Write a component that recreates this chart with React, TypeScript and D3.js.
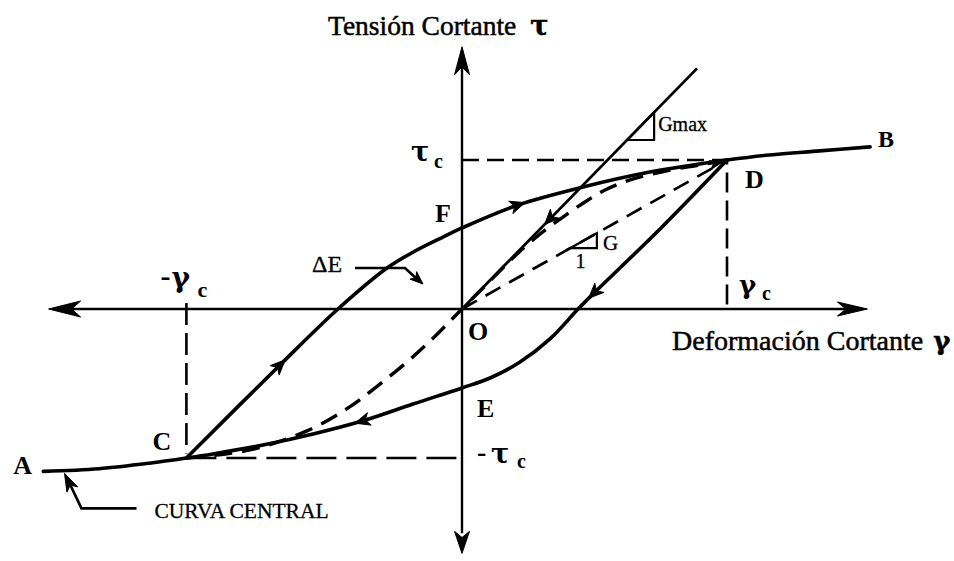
import React from "react";
import * as d3 from "d3";

type Pt = [number, number];

// Strain in units of γc, stress in units of τc
const centralLeft: Pt[] = [[-1.58, -1.09], [-1.37, -1.072], [-1.18, -1.035], [-1.04, -1.0]];
const centralInner: Pt[] = [
  [-1.04, -1.0], [-0.8, -0.946], [-0.585, -0.818], [-0.434, -0.669], [-0.336, -0.541],
  [-0.196, -0.338], [-0.094, -0.169], [0, 0], [0.106, 0.188], [0.2, 0.356], [0.294, 0.503],
  [0.381, 0.617], [0.464, 0.718], [0.54, 0.799], [0.634, 0.866], [0.785, 0.933], [0.898, 0.966], [1, 1],
];
const centralRight: Pt[] = [[1, 1], [1.16, 1.034], [1.35, 1.061], [1.54, 1.088]];
const reloading: Pt[] = [
  [-1.04, -1.0], [-0.687, -0.376], [-0.468, 0], [-0.283, 0.275], [-0.17, 0.396], [-0.072, 0.483],
  [0, 0.544], [0.211, 0.698], [0.457, 0.819], [0.709, 0.919], [1, 1],
];
const unloading: Pt[] = [
  [1, 1], [0.751, 0.544], [0.498, 0.107], [0.438, 0], [0.332, -0.201], [0.219, -0.356],
  [0.106, -0.463], [0, -0.53], [-0.185, -0.638], [-0.377, -0.752], [-0.562, -0.839],
  [-0.751, -0.913], [-0.94, -0.973], [-1.04, -1.0],
];
const gmaxTop: Pt = [0.887, 1.615];
const strainExtent: Pt = [-1.56, 1.53];
const stressExtent: Pt = [-1.64, 1.76];

const W = 954;
const H = 561;
const SERIF = "'Liberation Serif', 'Times New Roman', serif";
const GREEK = "'DejaVu Serif', 'Liberation Serif', serif";

function head(tipX: number, tipY: number, angle: number, len: number, half: number, key?: string) {
  const c = Math.cos(angle), s = Math.sin(angle);
  const p = (a: number, b: number) => `${tipX + a * c - b * s},${tipY + a * s + b * c}`;
  const d = `M${p(0, 0)}L${p(-len, -half)}L${p(-len * 0.72, 0)}L${p(-len, half)}Z`;
  return <path key={key} d={d} fill="#000" stroke="#000" strokeWidth={1} strokeLinejoin="round" />;
}

export default function App() {
  const x = d3.scaleLinear().domain([0, 1]).range([462, 727]);
  const y = d3.scaleLinear().domain([0, 1]).range([309, 160]);
  const curve = d3.line<Pt>().x((d) => x(d[0])).y((d) => y(d[1])).curve(d3.curveCatmullRom.alpha(0.5));
  const seg = d3.line<Pt>().x((d) => x(d[0])).y((d) => y(d[1]));

  const C = reloading[0];
  const D = reloading[reloading.length - 1];
  const E = unloading[7];
  const F = reloading[6];
  const A = centralLeft[0];
  const B = centralRight[centralRight.length - 1];
  const gmaxSlope = gmaxTop[1] / gmaxTop[0];
  const secSlope = D[1] / D[0];

  // direction arrows placed on data points of each branch
  const onCurve = (pts: Pt[], i: number, reverse = false, len = 15, half = 6.5) => {
    const a = pts[i - 1], b = pts[i + 1], p = pts[i];
    let ang = Math.atan2(y(b[1]) - y(a[1]), x(b[0]) - x(a[0]));
    if (reverse) ang += Math.PI;
    const tx = x(p[0]) + Math.cos(ang) * len / 2;
    const ty = y(p[1]) + Math.sin(ang) * len / 2;
    return head(tx, ty, ang, len, half, `${i}-${reverse}`);
  };

  // slope triangles
  const gTri: Pt = [0.623, 0.725];
  const sTri: Pt = [0.408, 0.509];
  const triPath = (r: Pt, k: number) =>
    `M${x(r[0])},${y(r[0] * k)}L${x(r[1])},${y(r[0] * k)}L${x(r[1])},${y(r[1] * k)}Z`;

  const gmaxArrowAt: Pt = [0.33, 0.33 * gmaxSlope];
  const gmaxAng = Math.atan2(y(0) - y(gmaxArrowAt[1]), x(0) - x(gmaxArrowAt[0]));

  const x0 = x(0), y0 = y(0);
  const tipCC: Pt = [x(-1.5), y(-1.083) + 3];
  const dE: Pt = [x(reloading[3][0]), y(reloading[3][1])];

  return (
    <svg width={W} height={H} style={{ position: "absolute", left: 0, top: 0, background: "#fff" }} fontFamily={SERIF}>
      <rect width={W} height={H} fill="#fff" />
      {/* guide lines to τc, -τc, γc, -γc */}
      <g stroke="#000" fill="none" strokeWidth={2.3}>
        <path d={seg([[0, 1], D])} strokeDasharray="17 8" />
        <path d={seg([C, [0, -1]])} strokeDasharray="30 10" />
        <path d={seg([[1, 0.03], [1, 1]])} strokeDasharray="20 8" strokeWidth={2.6} />
        <path d={seg([[C[0], 0.04], [C[0], -0.97]])} strokeDasharray="22 8" strokeWidth={2.6} />
      </g>
      {/* axes */}
      <g stroke="#000" strokeWidth={2.4}>
        <line x1={x(strainExtent[0]) + 20} x2={x(strainExtent[1]) - 20} y1={y0} y2={y0} />
        <line x1={x0} x2={x0} y1={y(stressExtent[0]) - 20} y2={y(stressExtent[1]) + 20} />
      </g>
      {head(x(strainExtent[1]), y0, 0, 30, 7)}
      {head(x(strainExtent[0]), y0, Math.PI, 32, 8)}
      {head(x0, y(stressExtent[1]), -Math.PI / 2, 28, 7.5)}
      {head(x0, y(stressExtent[0]), Math.PI / 2, 22, 7.5)}

      {/* secant modulus G and central curve inside the loop */}
      <path d={seg([[0, 0], D])} stroke="#000" fill="none" strokeWidth={2.7} strokeDasharray="17 10" />
      <path d={curve(centralInner) || ""} stroke="#000" fill="none" strokeWidth={3.4} strokeDasharray="18 10" />
      {/* tangent modulus Gmax */}
      <path d={seg([[0, 0], gmaxTop])} stroke="#000" fill="none" strokeWidth={2.8} />
      {head(x(gmaxArrowAt[0]) + Math.cos(gmaxAng) * 7, y(gmaxArrowAt[1]) + Math.sin(gmaxAng) * 7, gmaxAng, 15, 6.5)}

      {/* central curve outside the loop, and the loop branches */}
      <g stroke="#000" fill="none" strokeWidth={3.6} strokeLinecap="round">
        <path d={curve(centralLeft) || ""} />
        <path d={curve(centralRight) || ""} />
        <path d={curve(reloading) || ""} />
        <path d={curve(unloading) || ""} />
      </g>
      {onCurve(reloading, 1)}
      {onCurve(reloading, 7)}
      {onCurve(unloading, 2)}
      {onCurve(unloading, 9)}
      {head(x(D[0]) - 6, y(D[1]) + 3, Math.atan2(y(D[1]) - y(centralInner[16][1]), x(D[0]) - x(centralInner[16][0])), 11, 4.5)}

      {/* slope triangles */}
      <path d={triPath(gTri, gmaxSlope)} stroke="#000" strokeWidth={2.2} fill="none" />
      <path d={triPath(sTri, secSlope)} stroke="#000" strokeWidth={2.2} fill="none" />
      <text x={x(gTri[1]) + 4} y={y(gTri[1] * gmaxSlope) + 19} fontSize={20} stroke="#000" strokeWidth={0.3}>Gmax</text>
      <text x={x(sTri[1]) + 6} y={y(sTri[1] * secSlope) + 17} fontSize={21} stroke="#000" strokeWidth={0.3}>G</text>
      <text x={x((sTri[0] + sTri[1]) / 2) - 3} y={y(sTri[0] * secSlope) + 20} fontSize={20} textAnchor="middle" stroke="#000" strokeWidth={0.3}>1</text>

      {/* ΔE pointer */}
      <path d={`M${dE[0] - 32},${dE[1]}L${dE[0] + 18},${dE[1]}L${dE[0] + 30},${dE[1] + 11}`} stroke="#000" strokeWidth={2.6} fill="none" />
      {head(dE[0] + 36, dE[1] + 16, Math.atan2(16, 18), 13, 5)}
      <text x={dE[0] - 75} y={dE[1] + 4} fontSize={24} stroke="#000" strokeWidth={0.3}>ΔE</text>

      {/* central curve pointer */}
      <path d={`M${tipCC[0] + 72},${tipCC[1] + 35}L${tipCC[0] + 17},${tipCC[1] + 35}L${tipCC[0] + 6},${tipCC[1] + 12}`} stroke="#000" strokeWidth={2.6} fill="none" />
      {head(tipCC[0], tipCC[1], Math.atan2(-35, -17), 18, 6)}
      <text x={tipCC[0] + 90} y={tipCC[1] + 45} fontSize={21.5} stroke="#000" strokeWidth={0.3}>CURVA CENTRAL</text>

      {/* point labels */}
      <g fontWeight="bold" fontSize={26}>
        <text x={x(A[0]) - 30} y={y(A[1]) + 3}>A</text>
        <text x={x(B[0]) + 8} y={y(B[1])} fontSize={24}>B</text>
        <text x={x(C[0]) - 34} y={y(C[1]) - 8}>C</text>
        <text x={x(D[0]) + 18} y={y(D[1]) + 28}>D</text>
        <text x={x(E[0]) + 15} y={y(E[1]) + 29}>E</text>
        <text x={x(F[0]) - 27} y={y(F[1]) - 6}>F</text>
        <text x={x0 + 6} y={y0 + 31}>O</text>
      </g>

      {/* τc, -τc, γc, -γc */}
      <g fontWeight="bold">
        <text x={x0 - 51} y={y(1) + 1} fontSize={27} fontFamily={GREEK}>τ</text>
        <text x={x0 - 28} y={y(1) + 8} fontSize={20}>c</text>
        <text x={x0 + 15} y={y(-1) + 3} fontSize={28}>-</text>
        <text x={x0 + 29} y={y(-1) + 5} fontSize={27} fontFamily={GREEK}>τ</text>
        <text x={x0 + 55} y={y(-1) + 10} fontSize={20}>c</text>
        <text x={x(1) + 12} y={y0 - 15} fontSize={26} fontFamily={GREEK}>γ</text>
        <text x={x(1) + 35} y={y0 - 9} fontSize={20}>c</text>
        <text x={x(C[0]) - 26} y={y0 - 23} fontSize={30}>-</text>
        <text x={x(C[0]) - 15} y={y0 - 22} fontSize={28} fontFamily={GREEK}>γ</text>
        <text x={x(C[0]) + 11} y={y0 - 12} fontSize={22}>c</text>
      </g>

      {/* axis titles */}
      <text x={x0 - 134} y={35} fontSize={27.5} stroke="#000" strokeWidth={0.5}>
        Tensión Cortante<tspan dx={14} fontWeight="bold" fontSize={27} fontFamily={GREEK}>τ</tspan>
      </text>
      <text x={x0 + 210} y={y0 + 41} fontSize={28} stroke="#000" strokeWidth={0.5}>
        Deformación Cortante<tspan dx={10} fontWeight="bold" fontSize={26} fontFamily={GREEK}>γ</tspan>
      </text>
    </svg>
  );
}
